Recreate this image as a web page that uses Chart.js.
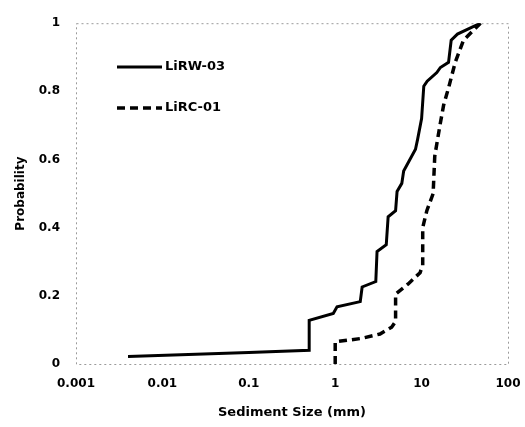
<!doctype html>
<html>
<head>
	<title>Sediment Size Distribution</title>
	<script src="https://cdn.jsdelivr.net/npm/chart.js@4/dist/chart.umd.min.js"></script>
	<style>
	html, body { margin: 0; padding: 0; background: #fff; }
	.chart-container { width: 525px; height: 427px; }
	</style>
</head>
<body>
	<div class="chart-container"><canvas id="chart"></canvas></div>
	<script>
		// values (size in mm, cumulative probability)
		var rwSize = [0.004, 0.1, 0.5, 0.5, 0.95, 1.05, 1.95, 2.05, 2.95, 3.05, 3.9, 4.1, 5.0, 5.2, 5.9, 6.2, 8.5, 9.0, 10.0, 10.6, 11.6, 15, 16.5, 20.5, 22, 26, 48];
		var rwProb = [0.022, 0.034, 0.04, 0.128, 0.148, 0.168, 0.183, 0.226, 0.242, 0.33, 0.35, 0.432, 0.45, 0.506, 0.53, 0.566, 0.63, 0.66, 0.72, 0.815, 0.83, 0.855, 0.87, 0.885, 0.95, 0.968, 1.0];

		var rcSize = [1.0, 1.0, 2.0, 3.3, 4.5, 5.0, 5.0, 7.0, 9.6, 10.3, 10.3, 11.5, 13.6, 14.2, 16.3, 18, 20.5, 24.5, 30.5, 48];
		var rcProb = [0, 0.065, 0.075, 0.088, 0.108, 0.125, 0.205, 0.235, 0.268, 0.29, 0.4, 0.45, 0.5, 0.61, 0.70, 0.76, 0.81, 0.885, 0.95, 1.0];

		var xTicks = [0.001, 0.01, 0.1, 1, 10, 100];
		var yTicks = [0, 0.2, 0.4, 0.6, 0.8, 1];

		function pts(xs, ys) {
			return xs.map(function(x, i) { return {x: x, y: ys[i]}; });
		}

		var family = '"DejaVu Sans", sans-serif';
		var font = {family: family, weight: 'bold', size: 12};

		// faint dotted frame round the plot, and the legend inside it
		var framePlugin = {
			id: 'frame',
			beforeDatasetsDraw: function(chart) {
				var a = chart.chartArea, ctx = chart.ctx;
				ctx.save();
				ctx.strokeStyle = '#9a9a9a';
				ctx.lineWidth = 1;
				ctx.setLineDash([2, 3]);
				ctx.strokeRect(a.left + 0.5, a.top + 0.5, a.right - a.left, a.bottom - a.top);
				ctx.restore();
			},
			afterDatasetsDraw: function(chart) {
				var ctx = chart.ctx;
				var rows = [{y: 67}, {y: 108}];
				ctx.save();
				chart.data.datasets.forEach(function(ds, i) {
					var y = rows[i].y;
					ctx.strokeStyle = '#000';
					ctx.lineWidth = ds.borderWidth;
					ctx.setLineDash(ds.borderDash || []);
					ctx.beginPath();
					ctx.moveTo(117, y);
					ctx.lineTo(162, y);
					ctx.stroke();
					ctx.setLineDash([]);
					ctx.fillStyle = '#000';
					ctx.font = 'bold 13px ' + family;
					ctx.textBaseline = 'middle';
					ctx.fillText(ds.label, 165, y);
				});
				ctx.restore();
			}
		};

		window.onload = function() {
			var ctx = document.getElementById('chart').getContext('2d');
			new Chart(ctx, {
				type: 'scatter',
				data: {
					datasets: [{
						label: 'LiRW-03',
						data: pts(rwSize, rwProb),
						showLine: true,
						borderColor: '#000',
						borderWidth: 3,
						pointRadius: 0,
						tension: 0
					}, {
						label: 'LiRC-01',
						data: pts(rcSize, rcProb),
						showLine: true,
						borderColor: '#000',
						borderWidth: 3.5,
						borderDash: [8, 5],
						pointRadius: 0,
						tension: 0
					}]
				},
				options: {
					responsive: true,
					maintainAspectRatio: false,
					animation: false,
					layout: {padding: {top: 20, right: 17, left: 0, bottom: 0}},
					plugins: {
						legend: {display: false},
						tooltip: {enabled: false}
					},
					scales: {
						x: {
							type: 'logarithmic',
							min: 0.001,
							max: 100,
							grid: {display: false, drawTicks: false},
							border: {display: false},
							afterBuildTicks: function(s) {
								s.ticks = xTicks.map(function(v) { return {value: v}; });
							},
							afterFit: function(s) {
								s.height = 63;
								s.paddingLeft = 0;
								s.paddingRight = 0;
							},
							ticks: {
								color: '#000',
								font: font,
								padding: 13,
								maxRotation: 0,
								autoSkip: false,
								callback: function(v) { return String(v); }
							},
							title: {
								display: true,
								text: 'Sediment Size (mm)',
								color: '#000',
								font: {family: family, weight: 'bold', size: 13},
								padding: {top: 0, bottom: 7}
							}
						},
						y: {
							min: 0,
							max: 1,
							grid: {display: false, drawTicks: false},
							border: {display: false},
							afterBuildTicks: function(s) {
								s.ticks = yTicks.map(function(v) { return {value: v}; });
							},
							afterFit: function(s) { s.width = 76; },
							ticks: {
								color: '#000',
								font: font,
								padding: 16,
								callback: function(v) { return String(Math.round(v * 10) / 10); }
							},
							title: {
								display: true,
								text: 'Probability',
								color: '#000',
								font: {family: family, weight: 'bold', size: 12},
								padding: {top: 14, bottom: 0}
							}
						}
					}
				},
				plugins: [framePlugin]
			});
		};
	</script>
</body>
</html>
